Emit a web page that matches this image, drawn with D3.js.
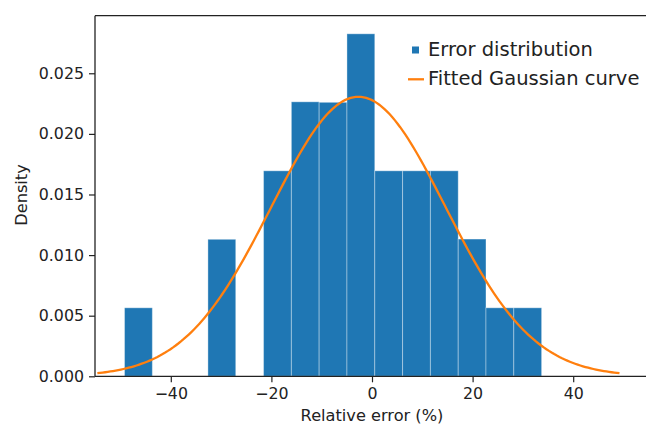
<!DOCTYPE html>
<html>
<head>
<meta charset="utf-8">
<script src="https://cdn.jsdelivr.net/npm/d3@7"></script>
<style>
    body { margin: 0; background: #fff; }
    svg { display: block; font-family: "DejaVu Sans", sans-serif; }
</style>
</head>
<body>
<svg id="chart" width="646" height="424"></svg>
<script>
// Histogram bins (15 equal bins).
let binEdges = [-49.2, -43.67, -38.14, -32.62, -27.09, -21.56, -16.03, -10.51,
    -4.98, 0.55, 6.08, 11.61, 17.14, 22.66, 28.19, 33.72];
let binCounts = [1, 0, 0, 2, 0, 3, 4, 4, 5, 3, 3, 3, 2, 1, 1];

// Fitted gaussian parameters.
let fitMean = -2.7;
let fitStd = 17.3;

let xTicks = [-40, -20, 0, 20, 40];
let yTicks = [0, 0.005, 0.010, 0.015, 0.020, 0.025];
let legendLabels = ["Error distribution", "Fitted Gaussian curve"];

let barColor = "#1f77b4";
let lineColor = "#ff7f0e";

let svg = d3.select("#chart");

let plot = { left: 95, right: 649, top: 15.7, bottom: 376.3 };

let x = d3.scaleLinear()
    .domain([-55.07, 55.07])
    .range([plot.left, plot.right]);

let y = d3.scaleLinear()
    .domain([0, 0.02975])
    .range([plot.bottom, plot.top]);

// density = count / (total * bin width), like matplotlib density=True
let total = d3.sum(binCounts);
let bins = binCounts.map((c, i) => {
    let w = binEdges[i + 1] - binEdges[i];
    return { x0: binEdges[i], x1: binEdges[i + 1], density: c / (total * w) };
}).filter(d => d.density > 0);

// Draw bars.
svg.append("g")
    .selectAll("rect")
    .data(bins)
    .join("rect")
    .attr("x", d => x(d.x0))
    .attr("y", d => y(d.density))
    .attr("width", d => x(d.x1) - x(d.x0))
    .attr("height", d => y(0) - y(d.density))
    .attr("fill", barColor)
    .attr("stroke", "#ffffff")
    .attr("stroke-opacity", 0.35)
    .attr("stroke-width", 1);

// Gaussian curve from mean - 3 sd to mean + 3 sd.
let curveX = d3.range(0, 201).map(i => fitMean - 3 * fitStd + i * 6 * fitStd / 200);
let curvePoints = curveX.map(v => [v, Math.exp(-0.5 * ((v - fitMean) / fitStd) ** 2) / (fitStd * Math.sqrt(2 * Math.PI))]);

svg.append("path")
    .datum(curvePoints)
    .attr("d", d3.line().x(d => x(d[0])).y(d => y(d[1])))
    .attr("fill", "none")
    .attr("stroke", lineColor)
    .attr("stroke-width", 2.3);

// Axes.
let xAxis = svg.append("g")
    .attr("transform", "translate(0," + plot.bottom + ")")
    .call(d3.axisBottom(x).tickValues(xTicks).tickSize(6).tickPadding(5)
        .tickFormat(d => d < 0 ? "\u2212" + Math.abs(d) : d));
let yAxis = svg.append("g")
    .attr("transform", "translate(" + plot.left + ",0)")
    .call(d3.axisLeft(y).tickValues(yTicks).tickSize(6).tickPadding(5)
        .tickFormat(d3.format(".3f")));

[xAxis, yAxis].forEach(a => {
    a.select(".domain").remove();
    a.selectAll(".tick line").attr("stroke", "#222").attr("stroke-width", 1.2);
    a.selectAll(".tick text")
        .attr("fill", "#222")
        .style("font-size", "15.8px")
        .style("font-family", "DejaVu Sans");
});

// Spines: left, bottom, top (right spine falls outside the picture).
svg.append("line")
    .attr("x1", plot.left).attr("x2", plot.left)
    .attr("y1", plot.top).attr("y2", plot.bottom)
    .attr("stroke", "#222").attr("stroke-width", 1.3);
svg.append("line")
    .attr("x1", plot.left).attr("x2", 646)
    .attr("y1", plot.bottom).attr("y2", plot.bottom)
    .attr("stroke", "#222").attr("stroke-width", 1.3);
svg.append("line")
    .attr("x1", plot.left).attr("x2", 646)
    .attr("y1", plot.top).attr("y2", plot.top)
    .attr("stroke", "#222").attr("stroke-width", 1.3);

// Axis labels.
svg.append("text")
    .attr("x", 372)
    .attr("y", 420.5)
    .attr("text-anchor", "middle")
    .attr("fill", "#222")
    .style("font-size", "16.2px")
    .text("Relative error (%)");
svg.append("text")
    .attr("transform", "translate(26.5,195) rotate(-90)")
    .attr("text-anchor", "middle")
    .attr("fill", "#222")
    .style("font-size", "16.2px")
    .text("Density");

// Legend.
let legend = svg.append("g").attr("transform", "translate(408,0)");
legend.append("rect")
    .attr("x", 4).attr("y", 46.5)
    .attr("width", 7).attr("height", 7)
    .attr("fill", barColor);
legend.append("line")
    .attr("x1", 0).attr("x2", 16)
    .attr("y1", 79.3).attr("y2", 79.3)
    .attr("stroke", lineColor).attr("stroke-width", 2.3);
legend.selectAll("text.label")
    .data(legendLabels)
    .join("text")
    .attr("class", "label")
    .attr("x", 20)
    .attr("y", (d, i) => 56 + i * 28.5)
    .attr("fill", "#222")
    .style("font-size", "19.5px")
    .text(d => d);
</script>
</body>
</html>
